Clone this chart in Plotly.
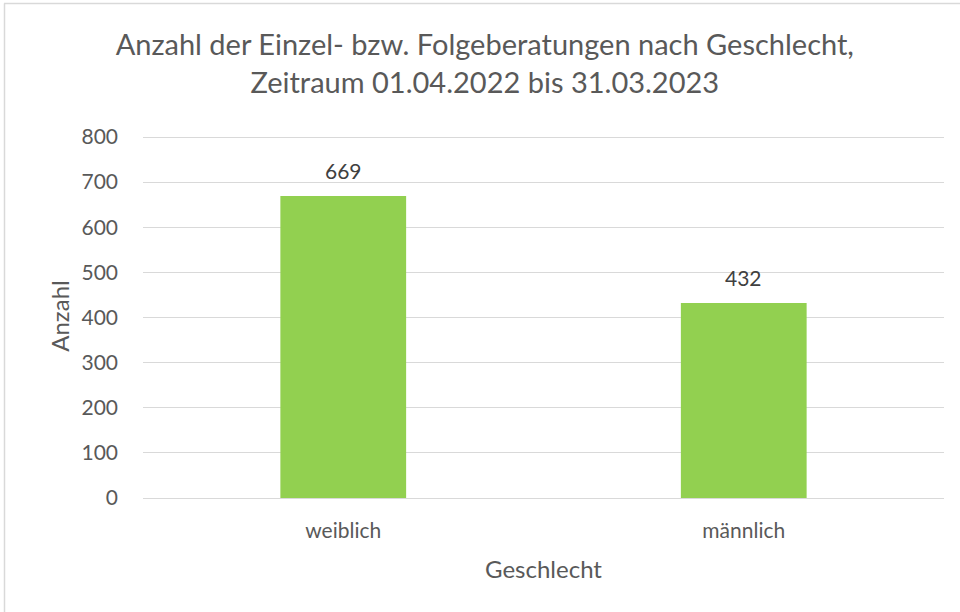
import plotly.graph_objects as go

categories = ["weiblich", "männlich"]
values = [669, 432]
y_ticks = [0, 100, 200, 300, 400, 500, 600, 700, 800]

FONT = "Lato, Open Sans, sans-serif"
TXT = "#595959"

TOP = 134
PLOT_H = 612 - TOP - 114

fig = go.Figure(go.Bar(
    x=categories, y=values,
    marker=dict(color="#92D050", line=dict(width=0)),
    hoverinfo="x+y",
))

for c, v in zip(categories, values):
    fig.add_annotation(x=c, y=v, text=str(v), showarrow=False,
                       yanchor="middle", yshift=26,
                       font=dict(size=21, color="#404040", family=FONT))

fig.update_layout(
    width=960, height=612,
    margin=dict(l=143, r=16, t=TOP, b=114),
    paper_bgcolor="white", plot_bgcolor="white",
    bargap=0.686,
    showlegend=False,
    font=dict(family=FONT, color=TXT, size=21),
    title=dict(
        text="Anzahl der Einzel- bzw. Folgeberatungen nach Geschlecht,<br>Zeitraum 01.04.2022 bis 31.03.2023",
        x=0.505, xanchor="center", xref="container",
        y=1 - 55 / 612, yanchor="middle", yref="container",
        font=dict(size=29, color=TXT, family=FONT),
    ),
    xaxis=dict(
        showgrid=False, showline=False, ticks="",
        ticklabelstandoff=18,
        tickfont=dict(size=21, color=TXT),
        title=dict(text="Geschlecht", font=dict(size=24, color=TXT), standoff=20),
    ),
    yaxis=dict(
        range=[0, PLOT_H / 0.45125], tickvals=y_ticks,
        showgrid=True, gridcolor="#d9d9d9", gridwidth=1,
        zeroline=True, zerolinecolor="#d9d9d9", zerolinewidth=1,
        ticks="", ticklabelstandoff=24,
        tickfont=dict(size=21, color=TXT),
        title=dict(text="Anzahl", font=dict(size=24, color=TXT), standoff=5),
    ),
    shapes=[
        dict(type="line", xref="paper", yref="paper",
             x0=(4 - 143) / 801, x1=1.2, y0=1 + (TOP - 3.5) / PLOT_H, y1=1 + (TOP - 3.5) / PLOT_H,
             line=dict(color="#d9d9d9", width=1.5)),
        dict(type="line", xref="paper", yref="paper",
             x0=(4.5 - 143) / 801, x1=(4.5 - 143) / 801, y0=-0.5, y1=1 + (TOP - 3.5) / PLOT_H,
             line=dict(color="#d9d9d9", width=1.5)),
    ],
)

fig.write_html("out.html", config={"displayModeBar": False},
               post_script="document.body.style.margin='0';document.body.style.overflow='hidden';")
